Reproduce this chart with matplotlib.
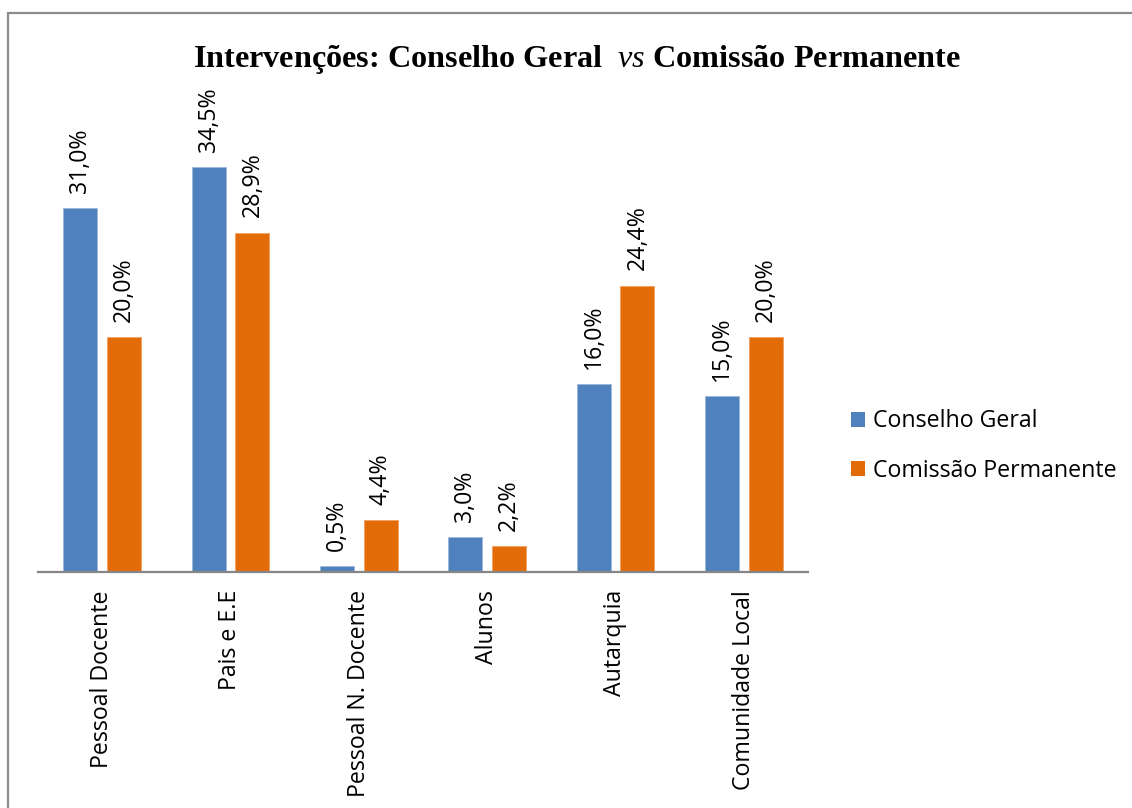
import matplotlib
matplotlib.use('Agg')
import matplotlib.pyplot as plt
from matplotlib.patches import Patch, Rectangle
import numpy as np

categories = ["Pessoal Docente", "Pais e E.E", "Pessoal N. Docente", "Alunos",
              "Autarquia", "Comunidade Local"]
conselho_geral = [31.0, 34.5, 0.5, 3.0, 16.0, 15.0]
comissao_permanente = [20.0, 28.9, 4.4, 2.2, 24.4, 20.0]
series_names = ["Conselho Geral", "Comissão Permanente"]
title_text = r"Intervenções: Conselho Geral  $\mathit{vs}$ Comissão Permanente"

BLUE = "#4F81BD"
ORANGE = "#E36C09"

plt.rcParams['mathtext.fontset'] = 'custom'
plt.rcParams['mathtext.it'] = 'Liberation Serif:italic'
plt.rcParams['mathtext.rm'] = 'Liberation Serif'

W, H = 1132, 808
fig = plt.figure(figsize=(W / 100, H / 100), dpi=100)
fig.patches.append(Rectangle((8 / W, -0.1), 1.2, (H - 13) / H + 0.1,
                             transform=fig.transFigure, fill=False,
                             edgecolor='#8c8c8c', linewidth=1.6))

FS = 16.7
ax = fig.add_axes([38 / W, 236 / H, 770 / W, 477 / H])
x = np.arange(len(categories))
bw = 0.265
off = 0.171
b1 = ax.bar(x - off, conselho_geral, width=bw, color=BLUE, edgecolor='#9db7dc', linewidth=0.6)
b2 = ax.bar(x + off, comissao_permanente, width=bw, color=ORANGE, edgecolor='#f0a060', linewidth=0.6)

lab_font = dict(family='Open Sans', size=FS)
for bars, vals in ((b1, conselho_geral), (b2, comissao_permanente)):
    for r, v in zip(bars, vals):
        ax.annotate(f"{v:.1f}%".replace('.', ','),
                    (r.get_x() + r.get_width() / 2, r.get_height()),
                    xytext=(0, 11), textcoords='offset points',
                    rotation=90, ha='center', va='bottom', **lab_font)

ax.set_xlim(-0.5, len(categories) - 0.5)
ax.set_ylim(0, 477 / 11.74)
ax.set_xticks(x)
ax.set_xticklabels(categories, rotation=90, va='top', ha='center', fontfamily='Open Sans', fontsize=FS)
ax.tick_params(axis='x', length=0, pad=13)
ax.set_yticks([])
for s in ('top', 'left', 'right'):
    ax.spines[s].set_visible(False)
ax.spines['bottom'].set_color('#868686')
ax.spines['bottom'].set_linewidth(1.6)

fig.text(577 / W, 1 - 59 / H, title_text, ha='center', va='center',
         fontfamily='Liberation Serif', fontweight='bold', fontsize=23.2)

handles = [Patch(facecolor=BLUE), Patch(facecolor=ORANGE)]
fig.legend(handles, series_names, loc='center left',
           bbox_to_anchor=(851 / W, 1 - 446 / H), frameon=False,
           prop={'family': 'Open Sans', 'size': FS},
           handlelength=0.62, handleheight=0.62, handletextpad=0.33,
           labelspacing=1.08, borderpad=0, borderaxespad=0)

fig.savefig('out.png', dpi=100)
